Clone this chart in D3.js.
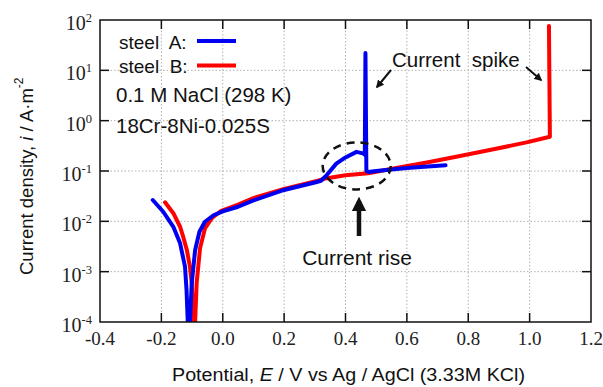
<!DOCTYPE html>
<html>
<head>
<meta charset="utf-8">
<script src="https://cdn.jsdelivr.net/npm/d3@7"></script>
<style>
  body { margin: 0; background: #fff; }
  svg { display: block; }
  .sans { font-family: "Liberation Sans", Arial, sans-serif; }
  .serif { font-family: "Liberation Serif", "Times New Roman", serif; }
</style>
</head>
<body>
<div id="chart"></div>
<script>
// steel A (blue) polarization curve: potential E (V) and current density i (A/m2)
const steelA_E = [-0.228, -0.194, -0.161, -0.139, -0.123, -0.118, -0.114, -0.112,
  -0.108, -0.107, -0.101, -0.090, -0.076, -0.058, -0.030, 0.0, 0.05, 0.1, 0.2, 0.3, 0.32,
  0.339, 0.37, 0.40, 0.436, 0.457, 0.463, 0.465, 0.468, 0.475, 0.5, 0.6, 0.726];
const steelA_i = [0.0265, 0.0155, 0.0078, 0.00366, 0.00126, 0.00043, 0.0001, 0.00004,
  0.00004, 0.0001, 0.00059, 0.0027, 0.0062, 0.0098, 0.0132, 0.0158, 0.0195, 0.026, 0.042, 0.059, 0.064,
  0.083, 0.14, 0.186, 0.24, 0.224, 0.21, 22, 0.10, 0.096, 0.10, 0.115, 0.13];

// steel B (red)
const steelB_E = [-0.188, -0.161, -0.139, -0.129, -0.117, -0.107, -0.101, -0.096, -0.094,
  -0.092, -0.090, -0.085, -0.074, -0.058, -0.036, -0.005, 0.05, 0.1, 0.2, 0.3, 0.34, 0.4, 0.474,
  0.556, 0.665, 0.773, 0.882, 0.99, 1.066, 1.063];
const steelB_i = [0.0239, 0.0145, 0.0078, 0.00495, 0.0027, 0.00126, 0.00059, 0.000095, 0.00004,
  0.00004, 0.0001, 0.0006, 0.0029, 0.0072, 0.0115, 0.0162, 0.0215, 0.029, 0.044, 0.062, 0.072, 0.082, 0.09,
  0.112, 0.148, 0.198, 0.27, 0.37, 0.48, 76];

const xTicks = [-0.4, -0.2, 0.0, 0.2, 0.4, 0.6, 0.8, 1.0, 1.2];
const yExponents = [-4, -3, -2, -1, 0, 1, 2];

const width = 603, height = 387;
const margin = { top: 20, right: 12, bottom: 65, left: 100 };

const svg = d3.select('#chart').append('svg')
  .attr('width', width)
  .attr('height', height);

const x = d3.scaleLinear().domain([-0.4, 1.2]).range([margin.left, width - margin.right]);
const y = d3.scaleLog().domain([1e-4, 1e2]).range([height - margin.bottom, margin.top]);

const x0 = x.range()[0], x1 = x.range()[1];
const yB = y.range()[0], yT = y.range()[1];

// dotted grid
svg.append('g').selectAll('line.gx')
  .data(xTicks.slice(1, -1))
  .enter().append('line')
  .attr('x1', d => x(d)).attr('x2', d => x(d))
  .attr('y1', yT).attr('y2', yB)
  .attr('stroke', '#b0b0b0').attr('stroke-width', 1).attr('stroke-dasharray', '1.5,2');

svg.append('g').selectAll('line.gy')
  .data(yExponents.slice(1, -1))
  .enter().append('line')
  .attr('x1', x0).attr('x2', x1)
  .attr('y1', d => y(Math.pow(10, d))).attr('y2', d => y(Math.pow(10, d)))
  .attr('stroke', '#b0b0b0').attr('stroke-width', 1).attr('stroke-dasharray', '1.5,2');

// curves
svg.append('clipPath').attr('id', 'plotclip')
  .append('rect').attr('x', x0).attr('y', yT).attr('width', x1 - x0).attr('height', yB - yT);

const line = d3.line().x(d => x(d[0])).y(d => y(d[1]));
const seriesB = steelB_E.map((e, k) => [e, steelB_i[k]]);
const seriesA = steelA_E.map((e, k) => [e, steelA_i[k]]);

const curves = svg.append('g').attr('clip-path', 'url(#plotclip)');
curves.append('path').datum(seriesB)
  .attr('d', line).attr('fill', 'none')
  .attr('stroke', '#ff0000').attr('stroke-width', 4).attr('stroke-linejoin', 'round').attr('stroke-linecap', 'round');
curves.append('path').datum(seriesA)
  .attr('d', line).attr('fill', 'none')
  .attr('stroke', '#0000f0').attr('stroke-width', 4).attr('stroke-linejoin', 'round').attr('stroke-linecap', 'round');

// frame and inward ticks
svg.append('rect')
  .attr('x', x0).attr('y', yT).attr('width', x1 - x0).attr('height', yB - yT)
  .attr('fill', 'none').attr('stroke', '#111').attr('stroke-width', 1.5);

const tickLen = 9;
xTicks.slice(1, -1).forEach(t => {
  svg.append('line').attr('x1', x(t)).attr('x2', x(t)).attr('y1', yB).attr('y2', yB - tickLen)
    .attr('stroke', '#111').attr('stroke-width', 1.5);
  svg.append('line').attr('x1', x(t)).attr('x2', x(t)).attr('y1', yT).attr('y2', yT + tickLen)
    .attr('stroke', '#111').attr('stroke-width', 1.5);
});
yExponents.slice(1, -1).forEach(p => {
  const yy = y(Math.pow(10, p));
  svg.append('line').attr('x1', x0).attr('x2', x0 + tickLen).attr('y1', yy).attr('y2', yy)
    .attr('stroke', '#111').attr('stroke-width', 1.5);
  svg.append('line').attr('x1', x1).attr('x2', x1 - tickLen).attr('y1', yy).attr('y2', yy)
    .attr('stroke', '#111').attr('stroke-width', 1.5);
});

// tick labels
svg.append('g').selectAll('text')
  .data(xTicks)
  .enter().append('text')
  .attr('class', 'serif')
  .attr('x', d => x(d)).attr('y', yB + 23)
  .attr('text-anchor', 'middle')
  .attr('font-size', 19)
  .attr('fill', '#222')
  .text(d => d3.format('.1f')(d).replace('−', '-'));

const yl = svg.append('g').selectAll('text')
  .data(yExponents)
  .enter().append('text')
  .attr('class', 'serif')
  .attr('x', x0 - 8).attr('y', d => y(Math.pow(10, d)) + 10)
  .attr('text-anchor', 'end')
  .attr('fill', '#222');
yl.append('tspan').attr('font-size', 20).text('10');
yl.append('tspan').attr('font-size', 12.5).attr('dy', -8).text(d => String(d));

// axis titles
const xt = svg.append('text').attr('class', 'sans')
  .attr('x', 172).attr('y', 381)
  .attr('font-size', 17.5).attr('fill', '#111')
  .attr('textLength', 353).attr('lengthAdjust', 'spacingAndGlyphs');
xt.append('tspan').text('Potential, ');
xt.append('tspan').attr('font-style', 'italic').text('E');
xt.append('tspan').text(' / V vs Ag / AgCl (3.33M KCl)');

const yt = svg.append('text').attr('class', 'sans')
  .attr('transform', 'translate(33,275) rotate(-90)')
  .attr('font-size', 18.5).attr('fill', '#111');
yt.append('tspan').text('Current density, ');
yt.append('tspan').attr('font-style', 'italic').text('i');
yt.append('tspan').text(' / A\u00b7m');
yt.append('tspan').attr('font-size', 12).attr('dy', -10).text('-2');

// legend and notes
const legendItems = ['steel A:', 'steel B:'];
const legendColors = ['#0000f0', '#ff0000'];
legendItems.forEach((name, k) => {
  svg.append('text').attr('class', 'sans')
    .attr('x', 119).attr('y', 49 + k * 24)
    .attr('font-size', 19).attr('fill', '#111')
    .style('white-space', 'pre')
    .text(name.replace(' ', '  '));
  svg.append('line')
    .attr('x1', 197).attr('x2', 236)
    .attr('y1', 41 + k * 24.5).attr('y2', 41 + k * 24.5)
    .attr('stroke', legendColors[k]).attr('stroke-width', 4);
});

const notes = ['0.1 M NaCl (298 K)', '18Cr-8Ni-0.025S'];
notes.forEach((t, k) => {
  svg.append('text').attr('class', 'sans')
    .attr('x', 116).attr('y', 102 + k * 30.5)
    .attr('font-size', 20.5).attr('fill', '#111')
    .text(t);
});

// annotations
const defs = svg.append('defs');
defs.append('marker').attr('id', 'head').attr('viewBox', '0 0 10 10')
  .attr('refX', 8).attr('refY', 5).attr('markerWidth', 4).attr('markerHeight', 4)
  .attr('orient', 'auto')
  .append('path').attr('d', 'M0,0 L10,5 L0,10 z').attr('fill', '#111');
defs.append('marker').attr('id', 'bighead').attr('viewBox', '0 0 10 10')
  .attr('refX', 7).attr('refY', 5).attr('markerWidth', 3.2).attr('markerHeight', 3.2)
  .attr('orient', 'auto')
  .append('path').attr('d', 'M0,0 L10,5 L0,10 z').attr('fill', '#111');

// dashed ellipse round the current rise
svg.append('ellipse')
  .attr('cx', x(0.4365)).attr('cy', y(Math.pow(10, -0.9)))
  .attr('rx', 34).attr('ry', 23.5)
  .attr('fill', 'none').attr('stroke', '#111').attr('stroke-width', 2.5)
  .attr('stroke-dasharray', '8,6');

svg.append('line')
  .attr('x1', x(0.444)).attr('x2', x(0.444))
  .attr('y1', 236).attr('y2', 201)
  .attr('stroke', '#111').attr('stroke-width', 4.5).attr('marker-end', 'url(#bighead)');

svg.append('text').attr('class', 'sans')
  .attr('x', x(0.444) - 2).attr('y', 265)
  .attr('text-anchor', 'middle').attr('font-size', 21).attr('fill', '#111')
  .text('Current rise');

svg.append('text').attr('class', 'sans')
  .attr('x', 392).attr('y', 67)
  .attr('font-size', 20.5).attr('fill', '#111')
  .style('white-space', 'pre')
  .text('Current  spike');

svg.append('line').attr('x1', 391).attr('y1', 70).attr('x2', 377).attr('y2', 87)
  .attr('stroke', '#111').attr('stroke-width', 2).attr('marker-end', 'url(#head)');
svg.append('line').attr('x1', 526).attr('y1', 67).attr('x2', 541).attr('y2', 80)
  .attr('stroke', '#111').attr('stroke-width', 2).attr('marker-end', 'url(#head)');
</script>
</body>
</html>
